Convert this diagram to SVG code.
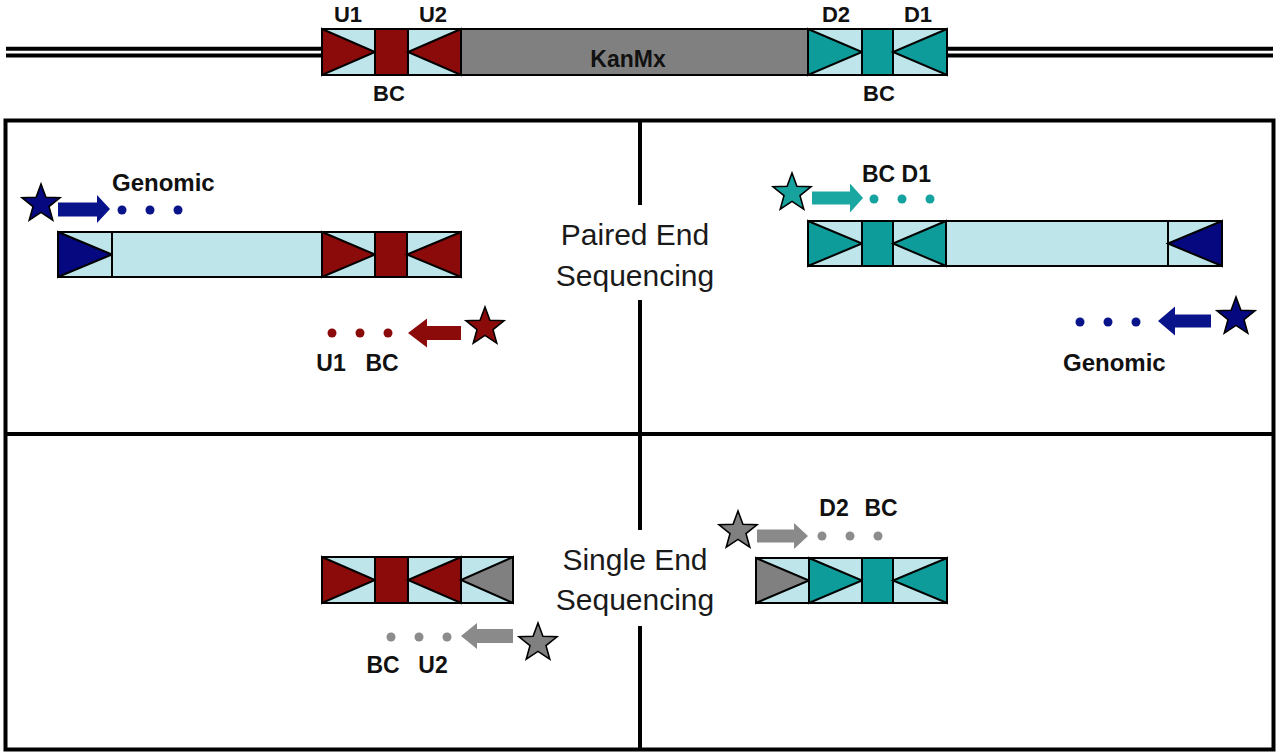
<svg xmlns="http://www.w3.org/2000/svg" xmlns:xlink="http://www.w3.org/1999/xlink" width="1280" height="755" viewBox="0 0 1280 755">
<style>
.bg{fill:#BEE5E9;stroke:#000;stroke-width:2}
.seg{stroke:#000;stroke-width:2;stroke-linejoin:miter}
.red{fill:#8B0A0A}
.teal{fill:#0E9C9A}
.navy{fill:#05087F}
.gray{fill:#808080}
.frame{stroke:#000;stroke-width:4;fill:none}
.lbl{font-family:"Liberation Sans",Arial,sans-serif;font-weight:bold;fill:#111}
.big{font-family:"Liberation Sans",Arial,sans-serif;font-size:30px;fill:#1a1a1a;text-anchor:middle}
.star{stroke:#000;stroke-width:1.6;stroke-linejoin:miter}
</style>
<defs>
<path id="star" d="M0,-20 L4.9,-6.8 L19.02,-6.18 L8,2.6 L11.76,16.18 L0,8.4 L-11.76,16.18 L-8,2.6 L-19.02,-6.18 L-4.9,-6.8 Z"/>
<g id="dots"><circle cx="0" cy="0" r="4.5"/><circle cx="28" cy="0" r="4.5"/><circle cx="56" cy="0" r="4.5"/></g>
</defs>
<rect width="1280" height="755" fill="#fff"/>

<g id="frame">
<rect class="frame" x="5.5" y="120.5" width="1268" height="629" stroke-width="4.5"/>
<line class="frame" x1="5.5" y1="434" x2="1273.5" y2="434"/>
<line class="frame" x1="640" y1="120" x2="640" y2="205"/>
<line class="frame" x1="640" y1="300" x2="640" y2="530"/>
<line class="frame" x1="640" y1="626" x2="640" y2="749"/>
</g>

<g id="chromosome">
<line x1="6" y1="48.7" x2="322" y2="48.7" stroke="#000" stroke-width="4"/>
<line x1="6" y1="55.5" x2="322" y2="55.5" stroke="#000" stroke-width="4"/>
<line x1="947" y1="48.7" x2="1273" y2="48.7" stroke="#000" stroke-width="4"/>
<line x1="947" y1="55.5" x2="1273" y2="55.5" stroke="#000" stroke-width="4"/>
</g>

<g id="construct">
<rect class="bg" x="322" y="29" width="53" height="46"/>
<polygon class="seg red" points="322,29 375,52 322,75"/>
<rect class="seg red" x="375" y="29" width="33" height="46"/>
<rect class="bg" x="408" y="29" width="53" height="46"/>
<polygon class="seg red" points="461,29 408,52 461,75"/>
<rect class="seg gray" x="461" y="29" width="347" height="46"/>
<rect class="bg" x="808" y="29" width="54" height="46"/>
<polygon class="seg teal" points="808,29 862,52 808,75"/>
<rect class="seg teal" x="862" y="29" width="31" height="46"/>
<rect class="bg" x="893" y="29" width="54" height="46"/>
<polygon class="seg teal" points="947,29 893,52 947,75"/>
<text class="lbl" x="628" y="67" font-size="23" text-anchor="middle">KanMx</text>
<text class="lbl" x="348" y="22" font-size="22" text-anchor="middle">U1</text>
<text class="lbl" x="433" y="22" font-size="22" text-anchor="middle">U2</text>
<text class="lbl" x="389" y="101" font-size="22" text-anchor="middle">BC</text>
<text class="lbl" x="836" y="22" font-size="22" text-anchor="middle">D2</text>
<text class="lbl" x="918" y="22" font-size="22" text-anchor="middle">D1</text>
<text class="lbl" x="879" y="101" font-size="22" text-anchor="middle">BC</text>
</g>

<g id="paired-label">
<text class="big" x="635" y="245">Paired End</text>
<text class="big" x="635" y="286">Sequencing</text>
</g>
<g id="single-label">
<text class="big" x="635" y="570">Single End</text>
<text class="big" x="635" y="610">Sequencing</text>
</g>

<g id="pe-upstream">
<rect class="bg" x="58" y="232" width="54" height="45"/>
<polygon class="seg navy" points="58,232 112,254.5 58,277"/>
<rect class="bg" x="112" y="232" width="210" height="45"/>
<rect class="bg" x="322" y="232" width="53" height="45"/>
<polygon class="seg red" points="322,232 375,254.5 322,277"/>
<rect class="seg red" x="375" y="232" width="32" height="45"/>
<rect class="bg" x="407" y="232" width="54" height="45"/>
<polygon class="seg red" points="461,232 407,254.5 461,277"/>
</g>
<g id="pe-up-read1">
<use href="#star" class="star navy" x="41" y="204"/>
<use href="#dots" fill="#0A148A" x="122" y="210"/>
<text class="lbl" x="112" y="191" font-size="24">Genomic</text>
</g>
<g id="pe-up-read2">
<use href="#star" class="star red" x="485" y="327"/>
<use href="#dots" fill="#8B0A0A" x="332" y="333"/>
<text class="lbl" x="331" y="371" font-size="23" text-anchor="middle">U1</text>
<text class="lbl" x="382" y="371" font-size="23" text-anchor="middle">BC</text>
</g>

<g id="pe-downstream">
<rect class="bg" x="808" y="221" width="54" height="45"/>
<polygon class="seg teal" points="808,221 862,243.5 808,266"/>
<rect class="seg teal" x="862" y="221" width="31" height="45"/>
<rect class="bg" x="893" y="221" width="53" height="45"/>
<polygon class="seg teal" points="946,221 893,243.5 946,266"/>
<rect class="bg" x="946" y="221" width="222" height="45"/>
<rect class="bg" x="1168" y="221" width="54" height="45"/>
<polygon class="seg navy" points="1222,221 1168,243.5 1222,266"/>
</g>
<g id="pe-down-read1">
<use href="#star" class="star" fill="#17A29E" x="792" y="193"/>
<use href="#dots" fill="#15A39F" x="874" y="199"/>
<text class="lbl" x="862" y="182" font-size="23">BC D1</text>
</g>
<g id="pe-down-read2">
<use href="#star" class="star navy" x="1236" y="317"/>
<use href="#dots" fill="#0A148A" x="1080" y="322"/>
<text class="lbl" x="1063" y="371" font-size="24">Genomic</text>
</g>

<g id="se-upstream">
<rect class="bg" x="322" y="557" width="53" height="46"/>
<polygon class="seg red" points="322,557 375,580 322,603"/>
<rect class="seg red" x="375" y="557" width="33" height="46"/>
<rect class="bg" x="408" y="557" width="53" height="46"/>
<polygon class="seg red" points="461,557 408,580 461,603"/>
<rect class="bg" x="461" y="557" width="52" height="46"/>
<polygon class="seg gray" points="513,557 461,580 513,603"/>
</g>
<g id="se-up-read">
<use href="#star" class="star gray" x="538" y="643"/>
<use href="#dots" fill="#8C8C8C" x="391" y="637"/>
<text class="lbl" x="383" y="673" font-size="23" text-anchor="middle">BC</text>
<text class="lbl" x="433" y="673" font-size="23" text-anchor="middle">U2</text>
</g>

<g id="se-downstream">
<rect class="bg" x="756" y="558" width="53" height="45"/>
<polygon class="seg gray" points="756,558 809,580.5 756,603"/>
<rect class="bg" x="809" y="558" width="53" height="45"/>
<polygon class="seg teal" points="809,558 862,580.5 809,603"/>
<rect class="seg teal" x="862" y="558" width="31" height="45"/>
<rect class="bg" x="893" y="558" width="54" height="45"/>
<polygon class="seg teal" points="947,558 893,580.5 947,603"/>
</g>
<g id="se-down-read">
<use href="#star" class="star gray" x="738" y="531"/>
<use href="#dots" fill="#8C8C8C" x="822" y="536"/>
<text class="lbl" x="834" y="516" font-size="23" text-anchor="middle">D2</text>
<text class="lbl" x="881" y="516" font-size="23" text-anchor="middle">BC</text>
</g>

<g id="connectors">
<polygon fill="#0A148A" points="58,202.5 97,202.5 97,195 110,209 97,223 97,216.5 58,216.5"/>
<polygon fill="#8B0A0A" points="408,333 427,318.5 427,326 461,326 461,340 427,340 427,347.5"/>
<polygon fill="#1AA7A2" points="812,191.5 850,191.5 850,183.5 863,198 850,212.5 850,204.5 812,204.5"/>
<polygon fill="#0A148A" points="1158,321 1175,306.5 1175,314.5 1211,314.5 1211,327.5 1175,327.5 1175,335.5"/>
<polygon fill="#8A8A8A" points="461,636 477,623 477,629 513,629 513,643 477,643 477,649"/>
<polygon fill="#8A8A8A" points="757,529.5 794,529.5 794,523 808,536 794,549 794,542.5 757,542.5"/>
</g>
</svg>
